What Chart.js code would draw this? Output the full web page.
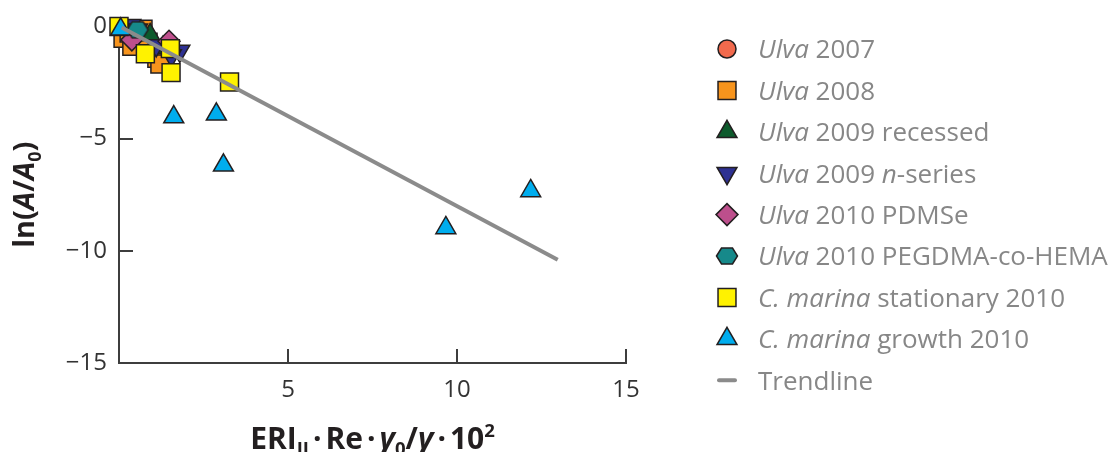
<!DOCTYPE html>
<html>
<head>
<meta charset="utf-8">
<script src="https://cdn.jsdelivr.net/npm/chart.js@4.4.1/dist/chart.umd.min.js"></script>
<style>
  html, body { margin: 0; padding: 0; background: #ffffff; }
  #wrap { position: relative; width: 1113px; height: 452px; }
</style>
</head>
<body>
<div id="wrap"><canvas id="chart" width="1113" height="452"></canvas></div>
<script>
// Removal data: x = ERI_II·Re·γ0/γ·10², y = ln(A/A0)
const ulva2007X = [0.15, 0.35, 0.55];
const ulva2007Y = [-0.35, -0.7, -0.5];

const ulva2008X = [0.12, 0.38, 0.71, 0.86, 1.12, 1.21, 0.3];
const ulva2008Y = [-0.53, -0.88, -0.13, -0.71, -1.42, -1.68, -0.3];

const ulva2009RecX = [0.92, 1.3];
const ulva2009RecY = [-0.38, -0.95];

const ulva2009NX = [0.35, 0.55, 1.1, 1.8, 1.55];
const ulva2009NY = [0.05, -0.15, -0.85, -1.1, -1.3];

const ulva2010PdmseX = [0.38, 1.48];
const ulva2010PdmseY = [-0.6, -0.66];

const ulva2010PegX = [0.55];
const ulva2010PegY = [-0.15];

const marinaStatX = [0, 0.78, 1.52, 1.54, 3.27];
const marinaStatY = [0, -1.22, -0.99, -2.06, -2.48];

const marinaGrowX = [0.05, 1.62, 2.88, 3.09, 9.67, 12.18];
const marinaGrowY = [-0.13, -4.04, -3.92, -6.19, -8.98, -7.33];

const trendX = [0.08, 12.98];
const trendY = [-0.05, -10.4];

const xTicks = [5, 10, 15];
const yTicks = [0, -5, -10, -15];

// legend text: *...* marks italic runs
const seriesNames = [
  '*Ulva* 2007',
  '*Ulva* 2008',
  '*Ulva* 2009 recessed',
  '*Ulva* 2009 *n*-series',
  '*Ulva* 2010 PDMSe',
  '*Ulva* 2010 PEGDMA-co-HEMA',
  '*C. marina* stationary 2010',
  '*C. marina* growth 2010',
  'Trendline'
];

const EDGE = '#231f20';
const FONT = '"Open Sans", "DejaVu Sans", sans-serif';

// hexagon marker (no built-in point style for it)
function hexagonMarker(fill) {
  const c = document.createElement('canvas');
  c.width = 24; c.height = 20;
  const g = c.getContext('2d');
  g.beginPath();
  g.moveTo(1.5, 10); g.lineTo(6.5, 2); g.lineTo(17.5, 2);
  g.lineTo(22.5, 10); g.lineTo(17.5, 18); g.lineTo(6.5, 18);
  g.closePath();
  g.fillStyle = fill; g.fill();
  g.lineWidth = 1.5; g.strokeStyle = EDGE; g.stroke();
  return c;
}

const markers = [
  { style: 'circle',   radius: 9,    rotation: 0,   color: '#f26a4d' },
  { style: 'rect',     radius: 12.7, rotation: 0,   color: '#f7941d' },
  { style: 'triangle', radius: 11.5, rotation: 0,   color: '#0d5a2c' },
  { style: 'triangle', radius: 11.5, rotation: 180, color: '#2e3192' },
  { style: 'rectRot',  radius: 11,   rotation: 0,   color: '#bd4f8c' },
  { style: hexagonMarker('#16898a'), radius: 10, rotation: 0, color: '#16898a' },
  { style: 'rect',     radius: 12.7, rotation: 0,   color: '#fff200' },
  { style: 'triangle', radius: 11.5, rotation: 0,   color: '#00adee' }
];

const seriesX = [ulva2007X, ulva2008X, ulva2009RecX, ulva2009NX, ulva2010PdmseX, ulva2010PegX, marinaStatX, marinaGrowX];
const seriesY = [ulva2007Y, ulva2008Y, ulva2009RecY, ulva2009NY, ulva2010PdmseY, ulva2010PegY, marinaStatY, marinaGrowY];
// later series sit on top
const drawOrder = [8, 7, 6, 5, 4, 3, 2, 1];

const pts = (xs, ys) => xs.map((x, i) => ({ x, y: ys[i] }));

const datasets = seriesX.map((xs, i) => ({
  label: seriesNames[i].replace(/\*/g, ''),
  data: pts(xs, seriesY[i]),
  showLine: false,
  pointStyle: markers[i].style,
  pointRadius: markers[i].radius,
  pointHoverRadius: markers[i].radius,
  pointRotation: markers[i].rotation,
  pointBackgroundColor: markers[i].color,
  pointBorderColor: EDGE,
  pointBorderWidth: 1.5,
  order: drawOrder[i],
  clip: false
}));

datasets.push({
  label: 'Trendline',
  data: pts(trendX, trendY),
  showLine: true,
  borderColor: '#8b8b8b',
  borderWidth: 4,
  borderCapStyle: 'butt',
  pointRadius: 0,
  order: 0,
  clip: false
});

// ---- mixed-style text helpers ----
function segFont(s, size) {
  const sz = (s.sub || s.sup) ? size * 0.62 : size;
  return (s.i ? 'italic ' : '') + (s.b ? 'bold ' : '') + sz + 'px ' + FONT;
}
function richWidth(ctx, segs, size) {
  let w = 0;
  segs.forEach(s => { ctx.font = segFont(s, size); w += ctx.measureText(s.t).width + (s.gap || 0); });
  return w;
}
function drawRich(ctx, segs, size, color, x, y, align, angle) {
  ctx.save();
  ctx.translate(x, y);
  if (angle) ctx.rotate(angle);
  ctx.fillStyle = color;
  ctx.textBaseline = 'alphabetic';
  ctx.textAlign = 'left';
  const w = richWidth(ctx, segs, size);
  let cx = align === 'center' ? -w / 2 : 0;
  const base = size * 0.36;
  segs.forEach(s => {
    ctx.font = segFont(s, size);
    let dy = 0;
    if (s.sub) dy = size * 0.22;
    if (s.sup) dy = -size * 0.38;
    ctx.fillText(s.t, cx + (s.gap || 0) / 2, base + dy);
    cx += ctx.measureText(s.t).width + (s.gap || 0);
  });
  ctx.restore();
}
function parseItalic(str) {
  const out = [];
  str.split('*').forEach((part, k) => { if (part) out.push({ t: part, i: k % 2 === 1 }); });
  return out;
}

const yTitle = [
  { t: 'ln(', b: true }, { t: 'A', b: true, i: true }, { t: '/', b: true },
  { t: 'A', b: true, i: true }, { t: '0', b: true, sub: true }, { t: ')', b: true }
];
const xTitle = [
  { t: 'ERI', b: true }, { t: 'II', b: true, sub: true },
  { t: '·', b: true, gap: 8 }, { t: 'Re', b: true }, { t: '·', b: true, gap: 8 },
  { t: 'γ', b: true, i: true }, { t: '0', b: true, sub: true }, { t: '/', b: true },
  { t: 'γ', b: true, i: true }, { t: '·', b: true, gap: 8 }, { t: '10', b: true },
  { t: '2', b: true, sup: true }
];

const decorations = {
  id: 'decorations',
  beforeDatasetsDraw(chart) {
    const { ctx, chartArea: a, scales: { x, y } } = chart;
    const len = 14;
    ctx.save();
    ctx.strokeStyle = '#3d3d3d';
    ctx.lineWidth = 2;
    ctx.beginPath();
    xTicks.forEach(v => {
      const px = Math.round(x.getPixelForValue(v));
      ctx.moveTo(px, a.bottom); ctx.lineTo(px, a.bottom - len);
    });
    yTicks.filter(v => v > -15).forEach(v => {
      const py = Math.round(y.getPixelForValue(v));
      ctx.moveTo(a.left, py); ctx.lineTo(a.left + len, py);
    });
    ctx.stroke();
    ctx.restore();
  },
  afterDraw(chart) {
    const { ctx, chartArea: a } = chart;
    // axis titles
    drawRich(ctx, xTitle, 30, '#231f20', (a.left + a.right) / 2, 438, 'center', 0);
    drawRich(ctx, yTitle, 29, '#231f20', 24, (a.top + a.bottom) / 2, 'center', -Math.PI / 2);

    // legend
    const lx = 727, tx = 758, y0 = 49, step = 41.4;
    const H = Chart.helpers;
    seriesNames.forEach((name, i) => {
      const ry = y0 + i * step;
      ctx.save();
      if (i < markers.length) {
        const m = markers[i];
        ctx.fillStyle = m.color;
        ctx.strokeStyle = EDGE;
        ctx.lineWidth = 1.5;
        H.drawPoint(ctx, { pointStyle: m.style, radius: m.radius, rotation: m.rotation, borderWidth: 1.5 }, lx, ry);
      } else {
        ctx.strokeStyle = '#8b8b8b';
        ctx.lineWidth = 4;
        ctx.lineCap = 'round';
        ctx.beginPath(); ctx.moveTo(lx - 8, ry); ctx.lineTo(lx + 8, ry); ctx.stroke();
      }
      ctx.restore();
      drawRich(ctx, parseItalic(name), 26, '#878787', tx, ry, 'left', 0);
    });
  }
};

const tickFont = { family: FONT, size: 24 };

new Chart(document.getElementById('chart'), {
  type: 'scatter',
  data: { datasets },
  options: {
    responsive: false,
    animation: false,
    events: [],
    layout: { padding: { left: 0, top: 24, right: 1113 - 626, bottom: 0 } },
    plugins: { legend: { display: false }, tooltip: { enabled: false } },
    scales: {
      x: {
        type: 'linear', min: 0, max: 15,
        afterFit(s) { s.height = 89; },
        afterBuildTicks(s) { s.ticks = xTicks.map(v => ({ value: v })); },
        grid: { display: false, drawTicks: false },
        border: { display: true, color: '#3d3d3d', width: 2 },
        ticks: { font: tickFont, color: '#333333', padding: 13, maxRotation: 0,
                 callback: v => String(v) }
      },
      y: {
        type: 'linear', min: -15, max: 0,
        afterFit(s) { s.width = 119; },
        afterBuildTicks(s) { s.ticks = yTicks.map(v => ({ value: v })); },
        grid: { display: false, drawTicks: false },
        border: { display: true, color: '#3d3d3d', width: 2 },
        ticks: { font: tickFont, color: '#333333', padding: 12,
                 callback: v => (v < 0 ? '\u2212' + Math.abs(v) : String(v)) }
      }
    }
  },
  plugins: [decorations]
});
</script>
</body>
</html>
